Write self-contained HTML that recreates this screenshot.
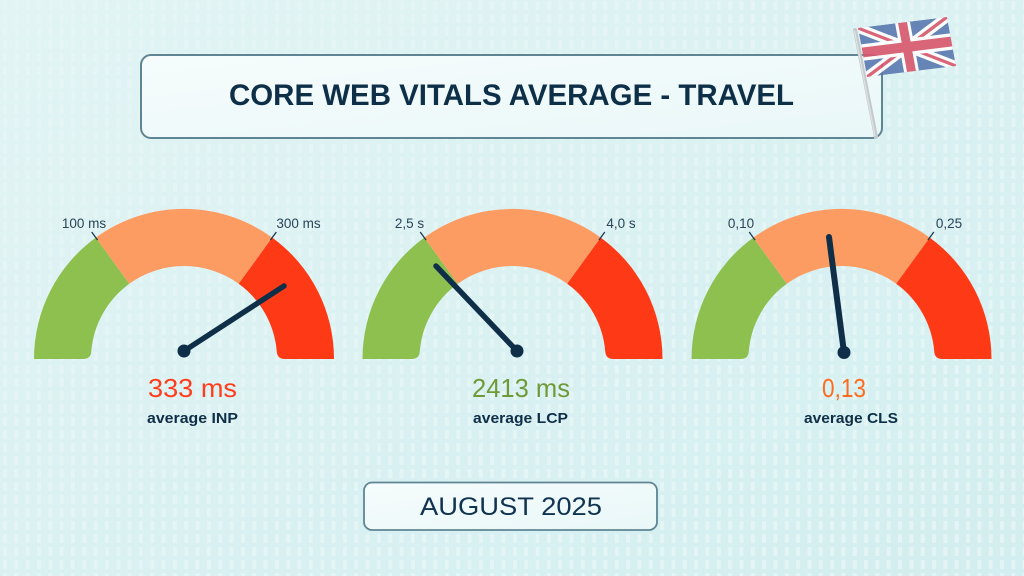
<!DOCTYPE html>
<html>
<head>
<meta charset="utf-8">
<style>
  html,body{margin:0;padding:0;}
  body{width:1024px;height:576px;overflow:hidden;background:#d9f0f1;}
  svg{display:block;}
</style>
</head>
<body>
<svg width="1024" height="576" viewBox="0 0 1024 576" xmlns="http://www.w3.org/2000/svg">
  <defs>
    <pattern id="dots" x="3" y="0" width="11.33" height="13" patternUnits="userSpaceOnUse">
      <rect x="0" y="1" width="4" height="9" rx="1" fill="#e6f6f6" opacity="0.85"/>
    </pattern>
    <linearGradient id="bgGrad" x1="0" y1="0" x2="1" y2="1">
      <stop offset="0" stop-color="#e2f4f4"/>
      <stop offset="1" stop-color="#d3eef0"/>
    </linearGradient>
    <linearGradient id="boxGrad" x1="0" y1="0" x2="1" y2="1">
      <stop offset="0" stop-color="#f6fcfc"/>
      <stop offset="1" stop-color="#e9f7f8"/>
    </linearGradient>
    <clipPath id="flagClip"><rect x="0" y="0" width="60" height="30"/></clipPath>
  </defs>

  <!-- background -->
  <rect x="0" y="0" width="1024" height="576" fill="url(#bgGrad)"/>
  <rect x="0" y="0" width="1024" height="576" fill="url(#dots)"/>

  <!-- Title box -->
  <rect x="141" y="55" width="741" height="83" rx="10" ry="10" fill="url(#boxGrad)" stroke="#5f8594" stroke-width="2"/>
  <text x="511.5" y="105" text-anchor="middle" font-family="'Liberation Sans', sans-serif" font-weight="bold" font-size="30" fill="#0d2f48" textLength="565" lengthAdjust="spacingAndGlyphs">CORE WEB VITALS AVERAGE - TRAVEL</text>

  <!-- Flag pole -->
  <line x1="855" y1="30" x2="876" y2="137" stroke="#c5cbcc" stroke-width="4" stroke-linecap="round"/>
  <line x1="854.5" y1="31" x2="875" y2="136" stroke="#dfe3e3" stroke-width="1.2"/>

  <!-- Flag -->
  <g transform="matrix(1.4833,-0.1833,0.3,1.6333,858,28)" opacity="0.9">
    <g clip-path="url(#flagClip)">
      <rect x="0" y="0" width="60" height="30" fill="#5a79b0"/>
      <path d="M0,0 L60,30 M60,0 L0,30" stroke="#ffffff" stroke-width="6"/>
      <path d="M0,0 L60,30 M60,0 L0,30" stroke="#d9566b" stroke-width="2"/>
      <path d="M30,0 V30 M0,15 H60" stroke="#ffffff" stroke-width="10"/>
      <path d="M30,0 V30 M0,15 H60" stroke="#d9566b" stroke-width="6"/>
    </g>
  </g>

  <!-- Gauge 1 -->
  <g transform="translate(184,359)">
    <path d="M-150,0 A150,150 0 0 1 -88.2,-121.4 L-54.7,-75.2 A93,93 0 0 0 -92.7,-8 Q-93,0 -101,0 Z" fill="#8dc04f"/>
    <path d="M-88.2,-121.4 A150,150 0 0 1 88.2,-121.4 L54.7,-75.2 A93,93 0 0 0 -54.7,-75.2 Z" fill="#fd9c62"/>
    <path d="M88.2,-121.4 A150,150 0 0 1 150,0 L101,0 Q93,0 92.7,-8 A93,93 0 0 0 54.7,-75.2 Z" fill="#fe3916"/>
    <line x1="-86.4" y1="-118.9" x2="-92.3" y2="-127" stroke="#1e3a4f" stroke-width="1.3"/>
    <line x1="86.4" y1="-118.9" x2="92.3" y2="-127" stroke="#1e3a4f" stroke-width="1.3"/>
  </g>
  <text x="84" y="228" text-anchor="middle" font-family="'Liberation Sans', sans-serif" font-size="13.5" fill="#2a4458">100 ms</text>
  <text x="298.5" y="228" text-anchor="middle" font-family="'Liberation Sans', sans-serif" font-size="13.5" fill="#2a4458">300 ms</text>
  <line x1="184" y1="351" x2="284" y2="286" stroke="#0f2f48" stroke-width="5.5" stroke-linecap="round"/>
  <circle cx="184" cy="351" r="6.5" fill="#0f2f48"/>
  <text x="192.5" y="397" text-anchor="middle" font-family="'Liberation Sans', sans-serif" font-size="26" fill="#ff3d1c" textLength="89" lengthAdjust="spacingAndGlyphs">333 ms</text>
  <text x="192.5" y="423" text-anchor="middle" font-family="'Liberation Sans', sans-serif" font-weight="bold" font-size="15" fill="#0f2f48" textLength="91" lengthAdjust="spacingAndGlyphs">average INP</text>

  <!-- Gauge 2 -->
  <g transform="translate(512.5,359)">
    <path d="M-150,0 A150,150 0 0 1 -88.2,-121.4 L-54.7,-75.2 A93,93 0 0 0 -92.7,-8 Q-93,0 -101,0 Z" fill="#8dc04f"/>
    <path d="M-88.2,-121.4 A150,150 0 0 1 88.2,-121.4 L54.7,-75.2 A93,93 0 0 0 -54.7,-75.2 Z" fill="#fd9c62"/>
    <path d="M88.2,-121.4 A150,150 0 0 1 150,0 L101,0 Q93,0 92.7,-8 A93,93 0 0 0 54.7,-75.2 Z" fill="#fe3916"/>
    <line x1="-86.4" y1="-118.9" x2="-92.3" y2="-127" stroke="#1e3a4f" stroke-width="1.3"/>
    <line x1="86.4" y1="-118.9" x2="92.3" y2="-127" stroke="#1e3a4f" stroke-width="1.3"/>
  </g>
  <text x="409.5" y="228" text-anchor="middle" font-family="'Liberation Sans', sans-serif" font-size="13.5" fill="#2a4458">2,5 s</text>
  <text x="621" y="228" text-anchor="middle" font-family="'Liberation Sans', sans-serif" font-size="13.5" fill="#2a4458">4,0 s</text>
  <line x1="517" y1="351" x2="436" y2="266" stroke="#0f2f48" stroke-width="5.5" stroke-linecap="round"/>
  <circle cx="517" cy="351" r="6.5" fill="#0f2f48"/>
  <text x="521" y="397" text-anchor="middle" font-family="'Liberation Sans', sans-serif" font-size="26" fill="#6e9b37" textLength="98" lengthAdjust="spacingAndGlyphs">2413 ms</text>
  <text x="520.5" y="423" text-anchor="middle" font-family="'Liberation Sans', sans-serif" font-weight="bold" font-size="15" fill="#0f2f48" textLength="95" lengthAdjust="spacingAndGlyphs">average LCP</text>

  <!-- Gauge 3 -->
  <g transform="translate(841.5,359)">
    <path d="M-150,0 A150,150 0 0 1 -88.2,-121.4 L-54.7,-75.2 A93,93 0 0 0 -92.7,-8 Q-93,0 -101,0 Z" fill="#8dc04f"/>
    <path d="M-88.2,-121.4 A150,150 0 0 1 88.2,-121.4 L54.7,-75.2 A93,93 0 0 0 -54.7,-75.2 Z" fill="#fd9c62"/>
    <path d="M88.2,-121.4 A150,150 0 0 1 150,0 L101,0 Q93,0 92.7,-8 A93,93 0 0 0 54.7,-75.2 Z" fill="#fe3916"/>
    <line x1="-86.4" y1="-118.9" x2="-92.3" y2="-127" stroke="#1e3a4f" stroke-width="1.3"/>
    <line x1="86.4" y1="-118.9" x2="92.3" y2="-127" stroke="#1e3a4f" stroke-width="1.3"/>
  </g>
  <text x="741" y="228" text-anchor="middle" font-family="'Liberation Sans', sans-serif" font-size="13.5" fill="#2a4458">0,10</text>
  <text x="949" y="228" text-anchor="middle" font-family="'Liberation Sans', sans-serif" font-size="13.5" fill="#2a4458">0,25</text>
  <line x1="844" y1="352.5" x2="829" y2="237" stroke="#0f2f48" stroke-width="6" stroke-linecap="round"/>
  <circle cx="844" cy="352.5" r="6.5" fill="#0f2f48"/>
  <text x="844" y="397" text-anchor="middle" font-family="'Liberation Sans', sans-serif" font-size="26" fill="#ff6b1d" textLength="44" lengthAdjust="spacingAndGlyphs">0,13</text>
  <text x="851" y="423" text-anchor="middle" font-family="'Liberation Sans', sans-serif" font-weight="bold" font-size="15" fill="#0f2f48" textLength="94" lengthAdjust="spacingAndGlyphs">average CLS</text>

  <!-- Bottom box -->
  <rect x="364" y="482.5" width="293" height="47.5" rx="8" ry="8" fill="url(#boxGrad)" stroke="#5f8594" stroke-width="1.8"/>
  <text x="511" y="515" text-anchor="middle" font-family="'Liberation Sans', sans-serif" font-size="25" fill="#0f3350" textLength="182" lengthAdjust="spacingAndGlyphs">AUGUST 2025</text>
</svg>
</body>
</html>
